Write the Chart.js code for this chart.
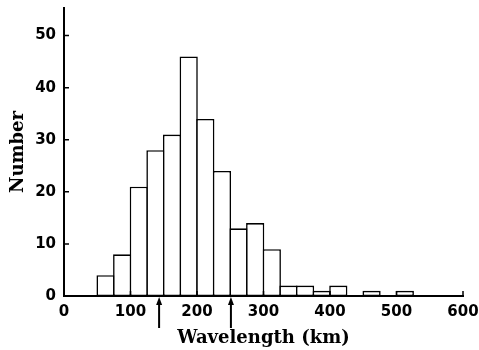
<!DOCTYPE html>
<html>
<head>
<meta charset="utf-8">
<script src="https://cdn.jsdelivr.net/npm/chart.js@4/dist/chart.umd.min.js"></script>
<style>
  html, body { margin: 0; padding: 0; background: #fff; }
  #wrap { width: 479px; height: 350px; position: relative; }
</style>
</head>
<body>
<div id="wrap"><canvas id="chart"></canvas></div>
<script>
  // histogram bins (km), 25 km wide
  const binStarts = [50, 75, 100, 125, 150, 175, 200, 225, 250, 275, 300, 325, 350, 375, 400, 425, 450, 475, 500];
  const counts = [4, 8, 21, 28, 31, 46, 34, 24, 13, 14, 9, 2, 2, 1, 2, 0, 1, 0, 1];
  const binWidth = 25;
  // arrows under the axis (km)
  const arrowMarks = [143, 251];

  const xTicks = [0, 100, 200, 300, 400, 500, 600];
  const yTicks = [0, 10, 20, 30, 40, 50];

  const tickFont = { family: "DejaVu Sans", size: 15, weight: "bold" };
  const titleFont = { family: "DejaVu Serif", size: 18, weight: "bold" };
  const edge = 1.6;

  const points = binStarts.map((start, i) => ({ x: start + binWidth / 2, y: counts[i] }));

  // inward tick marks and the two arrows, placed through the scales
  const extras = {
    id: "extras",
    afterDraw(chart) {
      const ctx = chart.ctx;
      const xs = chart.scales.x;
      const ys = chart.scales.y;
      const base = ys.getPixelForValue(0);
      const left = xs.getPixelForValue(0);
      ctx.save();
      ctx.strokeStyle = "#000";
      ctx.fillStyle = "#000";
      ctx.lineWidth = 1.5;
      ctx.beginPath();
      yTicks.forEach((v) => {
        const y = ys.getPixelForValue(v);
        ctx.moveTo(left, y);
        ctx.lineTo(left + 5, y);
      });
      xTicks.forEach((v) => {
        const x = xs.getPixelForValue(v);
        ctx.moveTo(x, base);
        ctx.lineTo(x, base - 5);
      });
      ctx.stroke();

      arrowMarks.forEach((v) => {
        const x = xs.getPixelForValue(v);
        const top = base + 1;
        ctx.lineWidth = 2;
        ctx.beginPath();
        ctx.moveTo(x, top + 6);
        ctx.lineTo(x, top + 31);
        ctx.stroke();
        ctx.beginPath();
        ctx.moveTo(x, top);
        ctx.lineTo(x - 3, top + 8);
        ctx.lineTo(x + 3, top + 8);
        ctx.closePath();
        ctx.fill();
      });
      ctx.restore();
    }
  };

  const noPad = (scale) => {
    scale.paddingLeft = 0;
    scale.paddingRight = 0;
    scale.paddingTop = 0;
    scale.paddingBottom = 0;
  };

  const chart = new Chart(document.getElementById("chart"), {
    type: "bar",
    data: {
      datasets: [{
        data: points,
        backgroundColor: "#fff",
        borderColor: "#000",
        borderWidth: edge,
        borderSkipped: false,
        inflateAmount: 0,
        barPercentage: 1,
        categoryPercentage: 1
      }]
    },
    options: {
      responsive: true,
      maintainAspectRatio: false,
      animation: false,
      layout: { padding: { left: 0, top: 8, right: 16, bottom: 0 } },
      plugins: {
        legend: { display: false },
        tooltip: { enabled: false }
      },
      scales: {
        x: {
          type: "linear",
          offset: false,
          min: 0,
          max: 600,
          afterBuildTicks: (scale) => { scale.ticks = xTicks.map((v) => ({ value: v })); },
          afterFit: (scale) => { scale.height = 54; noPad(scale); },
          grid: { display: false, drawTicks: false, offset: false },
          border: { display: true, color: "#000", width: 2 },
          ticks: { color: "#000", font: tickFont, padding: 7, maxRotation: 0, autoSkip: false },
          title: { display: true, text: "Wavelength (km)", color: "#000", font: titleFont, padding: { top: 0, bottom: 1 } }
        },
        y: {
          min: 0,
          max: 55.3,
          afterBuildTicks: (scale) => { scale.ticks = yTicks.map((v) => ({ value: v })); },
          afterFit: (scale) => { scale.width = 64; noPad(scale); },
          grid: { display: false, drawTicks: false },
          border: { display: true, color: "#000", width: 2 },
          ticks: { color: "#000", font: tickFont, padding: 8 },
          title: { display: true, text: "Number", color: "#000", font: titleFont, padding: { top: 8, bottom: 0 } }
        }
      }
    },
    plugins: [extras]
  });

  // bars fill the full bin width; widen by one edge so neighbours share a single outline
  const xs = chart.scales.x;
  chart.data.datasets[0].barThickness = xs.getPixelForValue(binWidth) - xs.getPixelForValue(0) + edge;
  chart.update();
</script>
</body>
</html>
